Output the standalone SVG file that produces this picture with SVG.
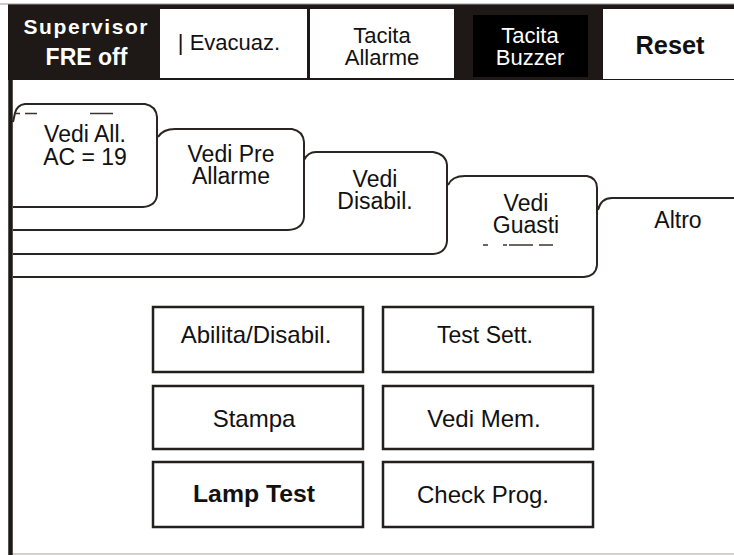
<svg xmlns="http://www.w3.org/2000/svg" width="734" height="555" viewBox="0 0 734 555">
<style>
.t{font-family:"Liberation Sans",Arial,sans-serif;fill:#111;text-anchor:middle}
.b{font-weight:bold}
.w{fill:#fff}
.edge{fill:none;stroke:#2a2522;stroke-width:2}
.btn{fill:#fff;stroke:#231f1c;stroke-width:2.5}
.dash{fill:none;stroke:#3a3532;stroke-width:1.5}
</style>
<rect width="734" height="555" fill="#fff"/>
<!-- top bar -->
<g id="topbar">
<rect x="8" y="4" width="726" height="76" fill="#1e1916"/>
<line x1="0" y1="4" x2="734" y2="4" stroke="#9a9592" stroke-width="1"/>
<g id="supervisor">
<text class="t b w" x="85.5" y="34" font-size="21" textLength="124" lengthAdjust="spacing">Supervisor</text>
<text class="t b w" x="86.5" y="65" font-size="23">FRE off</text>
</g>
<g id="evacuaz">
<rect x="160" y="9" width="147" height="69" fill="#fff"/>
<text class="t" x="229" y="50" font-size="22">| Evacuaz.</text>
</g>
<g id="tacita-allarme">
<rect x="310" y="9" width="144" height="69" fill="#fff"/>
<text class="t" x="382" y="43" font-size="22">Tacita</text>
<text class="t" x="382" y="65" font-size="22">Allarme</text>
</g>
<g id="tacita-buzzer">
<rect x="473" y="15" width="115" height="62" fill="#000"/>
<text class="t w" x="530" y="43" font-size="22">Tacita</text>
<text class="t w" x="530" y="65" font-size="22">Buzzer</text>
</g>
<g id="reset">
<rect x="603" y="9" width="131" height="70" fill="#fff"/>
<text class="t b" x="670" y="54" font-size="25" textLength="69" lengthAdjust="spacingAndGlyphs">Reset</text>
</g>
</g>
<!-- frame -->
<line x1="10.5" y1="80" x2="10.5" y2="555" stroke="#1e1916" stroke-width="4.5"/>
<line x1="13" y1="554" x2="734" y2="554" stroke="#c4c2c0" stroke-width="1.5"/>
<!-- tabs -->
<g id="connectors">
<path class="edge" d="M13 122 L15 113 Q17 105 25 104 H145 Q156 106 157 117 V195 Q156 206 143 207 H13"/>
<path class="edge" d="M158 137 Q163 129 175 129 H292 Q303 131 304 142 V217 Q303 229 288 230 H13"/>
<path class="edge" d="M304 160 Q308 152 316 152 H433 Q446 154 447 165 V241 Q446 253 433 254 H13"/>
<path class="edge" d="M448 185 Q452 176 465 176 H587 Q597 178 597 188 V265 Q596 276 584 277 H13"/>
<path class="edge" d="M598 210 Q601 198 612 198 H734"/>
<path class="dash" d="M16 113.5 H20 M25 113.5 H37 M90 113.5 H113"/>
<path class="dash" d="M483 245 H488 M503 245 H507 M509 245 H533 M539 245 H553"/>
</g>
<g id="tab-vedi-all">
<text class="t" x="85" y="142" font-size="23">Vedi All.</text>
<text class="t" x="85" y="165" font-size="23">AC = 19</text>
</g>
<g id="tab-vedi-pre">
<text class="t" x="231" y="162" font-size="23">Vedi Pre</text>
<text class="t" x="231" y="184" font-size="23">Allarme</text>
</g>
<g id="tab-vedi-disabil">
<text class="t" x="375" y="187" font-size="23">Vedi</text>
<text class="t" x="375" y="209" font-size="23">Disabil.</text>
</g>
<g id="tab-vedi-guasti">
<text class="t" x="526" y="211" font-size="23">Vedi</text>
<text class="t" x="526" y="233" font-size="23">Guasti</text>
</g>
<g id="tab-altro">
<text class="t" x="678" y="228" font-size="23">Altro</text>
</g>
<!-- buttons -->
<g id="btn-abilita">
<rect class="btn" x="153" y="307" width="210" height="65"/>
<text class="t" x="256" y="343" font-size="24">Abilita/Disabil.</text>
</g>
<g id="btn-test-sett">
<rect class="btn" x="383" y="307" width="210" height="65"/>
<text class="t" x="485" y="343" font-size="23">Test Sett.</text>
</g>
<g id="btn-stampa">
<rect class="btn" x="153" y="386" width="210" height="63"/>
<text class="t" x="254" y="427" font-size="24">Stampa</text>
</g>
<g id="btn-vedi-mem">
<rect class="btn" x="383" y="386" width="210" height="63"/>
<text class="t" x="484" y="427" font-size="24">Vedi Mem.</text>
</g>
<g id="btn-lamp-test">
<rect class="btn" x="153" y="462" width="210" height="65"/>
<text class="t b" x="254" y="502" font-size="24.5" textLength="122" lengthAdjust="spacingAndGlyphs">Lamp Test</text>
</g>
<g id="btn-check-prog">
<rect class="btn" x="383" y="462" width="210" height="65"/>
<text class="t" x="483" y="503" font-size="24">Check Prog.</text>
</g>
</svg>
